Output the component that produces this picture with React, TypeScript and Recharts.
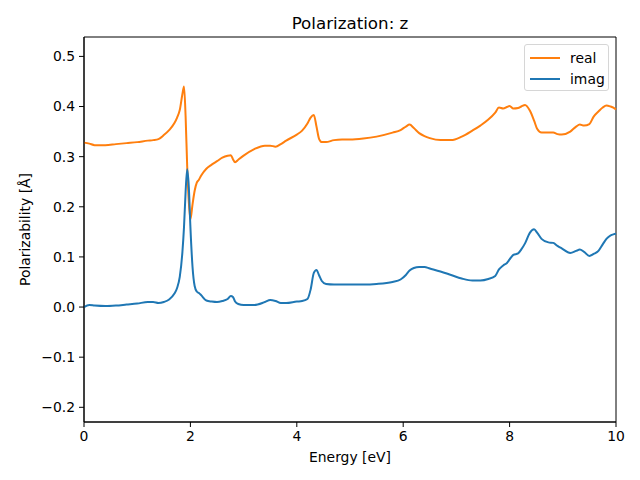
import { LineChart, Line, XAxis, YAxis, Legend, ReferenceArea } from 'recharts';

const energy = [
  0, 0.1, 0.2, 0.4, 0.6, 0.8, 1.0, 1.2, 1.3, 1.4,
  1.5, 1.6, 1.7, 1.75, 1.8, 1.85, 1.88, 1.91, 1.94, 1.97,
  2.0, 2.04, 2.08, 2.12, 2.16, 2.2, 2.3, 2.4, 2.5, 2.6,
  2.7, 2.76, 2.8, 2.84, 2.9, 3.0, 3.2, 3.4, 3.5, 3.6,
  3.7, 3.8, 4.0, 4.1, 4.2, 4.26, 4.32, 4.37, 4.42, 4.47,
  4.55, 4.7, 4.85, 5.0, 5.25, 5.5, 5.8, 5.95, 6.05, 6.12,
  6.2, 6.3, 6.4, 6.5, 6.7, 6.9, 7.1, 7.3, 7.45, 7.6,
  7.73, 7.8, 7.88, 7.95, 8.0, 8.07, 8.16, 8.22, 8.29, 8.38,
  8.46, 8.52, 8.6, 8.73, 8.82, 8.9, 8.98, 9.14, 9.25, 9.32,
  9.4, 9.5, 9.58, 9.67, 9.75, 9.82, 9.9, 9.95, 10.0,
];

const realPart = [
  0.328, 0.326, 0.323, 0.323, 0.325, 0.327, 0.329, 0.332, 0.333, 0.335,
  0.343, 0.353, 0.367, 0.378, 0.393, 0.425, 0.44, 0.38, 0.28, 0.21,
  0.175, 0.205, 0.232, 0.248, 0.254, 0.262, 0.276, 0.284, 0.291, 0.298,
  0.302, 0.303, 0.295, 0.289, 0.294, 0.302, 0.315, 0.322, 0.322, 0.320,
  0.325, 0.332, 0.344, 0.352, 0.366, 0.378, 0.383, 0.36, 0.335, 0.329,
  0.329, 0.333, 0.334, 0.334, 0.336, 0.340, 0.348, 0.353, 0.360, 0.364,
  0.357, 0.347, 0.341, 0.337, 0.333, 0.333, 0.340, 0.352, 0.362, 0.374,
  0.388, 0.398, 0.396, 0.399, 0.401, 0.396, 0.397, 0.400, 0.403, 0.392,
  0.372, 0.355, 0.348, 0.348, 0.348, 0.345, 0.344, 0.350, 0.360, 0.364,
  0.362, 0.365, 0.380, 0.390, 0.398, 0.402, 0.400, 0.398, 0.394,
];

const imagPart = [
  0.000, 0.004, 0.003, 0.002, 0.003, 0.005, 0.007, 0.010, 0.010, 0.008,
  0.010, 0.015, 0.027, 0.038, 0.06, 0.11, 0.16, 0.23, 0.275, 0.24,
  0.16, 0.08, 0.042, 0.031, 0.028, 0.024, 0.013, 0.011, 0.010, 0.012,
  0.016, 0.022, 0.02, 0.011, 0.006, 0.004, 0.004, 0.010, 0.014, 0.012,
  0.008, 0.008, 0.011, 0.012, 0.016, 0.035, 0.068, 0.074, 0.063, 0.052,
  0.046, 0.045, 0.045, 0.045, 0.045, 0.046, 0.050, 0.055, 0.064, 0.073,
  0.078, 0.080, 0.080, 0.077, 0.071, 0.064, 0.057, 0.053, 0.053, 0.056,
  0.062, 0.075, 0.083, 0.088, 0.095, 0.104, 0.107, 0.115, 0.127, 0.148,
  0.155, 0.148, 0.136, 0.129, 0.128, 0.122, 0.117, 0.108, 0.112, 0.115,
  0.110, 0.102, 0.106, 0.112, 0.125, 0.136, 0.143, 0.145, 0.146,
];

const xTicks = [0, 2, 4, 6, 8, 10];
const yTicks = [-0.2, -0.1, 0, 0.1, 0.2, 0.3, 0.4, 0.5];
const yDomain = [-0.2293, 0.5387];
const seriesOrder = ['real', 'imag'];

const data = energy.map((e, i) => ({ energy: e, real: realPart[i], imag: imagPart[i] }));

const FONT = 'DejaVu Sans';
const tickStyle = { fontSize: 13.9, fill: '#000', fontFamily: FONT };

const fmtY = (v: number) => (v < 0 ? '\u2212' + Math.abs(v).toFixed(1) : v.toFixed(1));

function LegendBox({ payload }: any) {
  const items = [...(payload || [])].sort(
    (a: any, b: any) => seriesOrder.indexOf(a.value) - seriesOrder.indexOf(b.value)
  );
  return (
    <div
      style={{
        border: '1px solid #d6d6d6',
        borderRadius: 3,
        background: 'rgba(255,255,255,0.8)',
        boxSizing: 'border-box',
        width: 85,
        height: 47,
        padding: '2px 0 0 5px',
        fontFamily: FONT,
        fontSize: 13.9,
        color: '#000',
        textAlign: 'left',
      }}
    >
      {items.map((p: any) => (
        <div key={p.value} style={{ display: 'flex', alignItems: 'center', height: 21 }}>
          <span style={{ display: 'inline-block', width: 30, height: 2, background: p.color, marginRight: 10 }} />
          <span>{p.value}</span>
        </div>
      ))}
    </div>
  );
}

export default function App() {
  return (
    <div style={{ position: 'absolute', left: 0, top: 0, width: 640, height: 480, background: '#fff' }}>
      <LineChart width={640} height={480} data={data} margin={{ top: 37, right: 24, bottom: 0, left: 0 }}>
        <XAxis
          dataKey="energy"
          type="number"
          domain={[0, 10]}
          ticks={xTicks}
          height={58}
          tickSize={5}
          tickMargin={4}
          tick={tickStyle}
          stroke="#000"
          label={{ value: 'Energy [eV]', position: 'insideBottom', offset: 18, style: { fontSize: 13.9, fill: '#000', fontFamily: FONT } }}
        />
        <YAxis
          type="number"
          domain={yDomain}
          allowDataOverflow
          ticks={yTicks}
          tickFormatter={fmtY}
          width={84}
          tickSize={5}
          tickMargin={4}
          tick={tickStyle}
          stroke="#000"
          label={{
            value: 'Polarizability [Å]',
            angle: -90,
            position: 'insideLeft',
            offset: 25,
            style: { fontSize: 13.9, fill: '#000', fontFamily: FONT, textAnchor: 'middle' },
          }}
        />
        <ReferenceArea
          x1={0}
          x2={10}
          y1={yDomain[0]}
          y2={yDomain[1]}
          fill="none"
          fillOpacity={0}
          stroke="#000"
          strokeWidth={1}
          ifOverflow="visible"
          label={{ value: 'Polarization: z', position: 'top', offset: 8, style: { fontSize: 16.7, fill: '#000', fontFamily: FONT } }}
        />
        <Legend
          layout="horizontal"
          verticalAlign="middle"
          align="center"
          content={<LegendBox />}
          wrapperStyle={{ top: 44, left: 524, width: 85, height: 47 }}
        />
        <Line dataKey="real" name="real" type="monotone" stroke="#ff7f0e" strokeWidth={2} dot={false} isAnimationActive={false} />
        <Line dataKey="imag" name="imag" type="monotone" stroke="#1f77b4" strokeWidth={2} dot={false} isAnimationActive={false} />
      </LineChart>
    </div>
  );
}
